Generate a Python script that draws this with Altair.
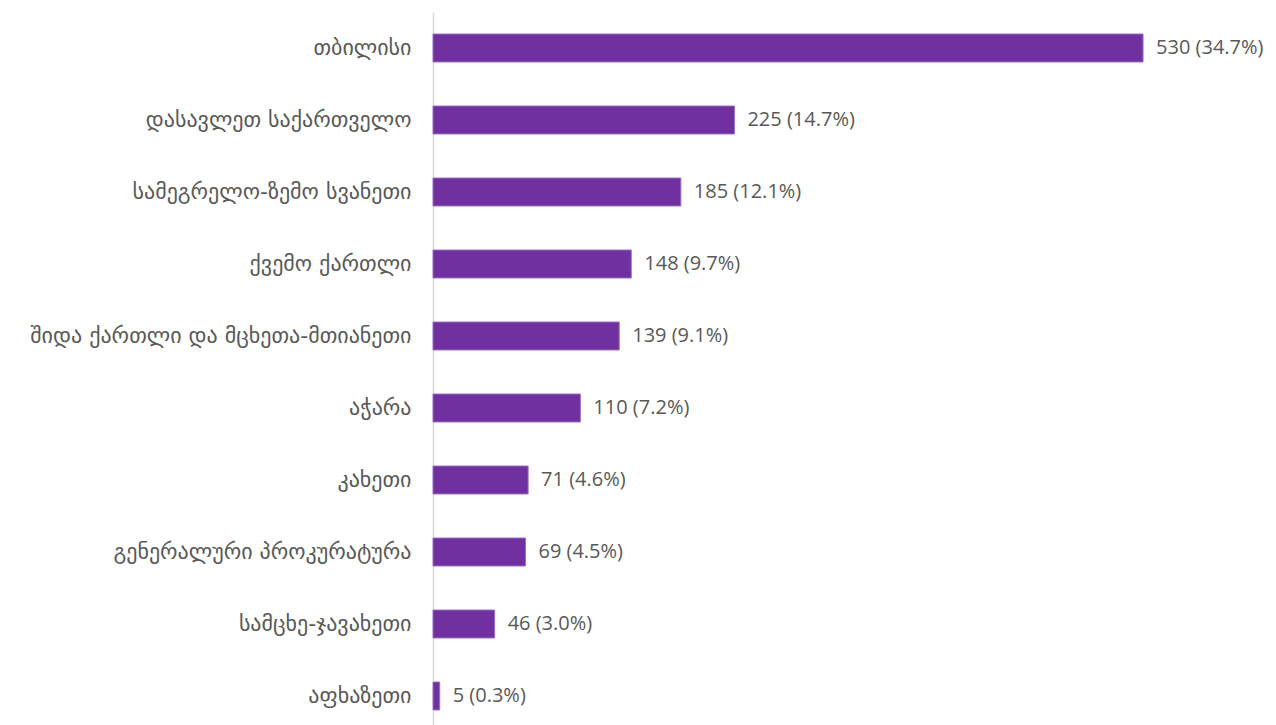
import altair as alt
import pandas as pd

regions = [
    "თბილისი",
    "დასავლეთ საქართველო",
    "სამეგრელო-ზემო სვანეთი",
    "ქვემო ქართლი",
    "შიდა ქართლი და მცხეთა-მთიანეთი",
    "აჭარა",
    "კახეთი",
    "გენერალური პროკურატურა",
    "სამცხე-ჯავახეთი",
    "აფხაზეთი",
]
counts = [530, 225, 185, 148, 139, 110, 71, 69, 46, 5]
shares = ["34.7%", "14.7%", "12.1%", "9.7%", "9.1%", "7.2%", "4.6%", "4.5%", "3.0%", "0.3%"]

df = pd.DataFrame({"region": regions, "count": counts, "share": shares})
df["label"] = [f"{c} ({s})" for c, s in zip(counts, shares)]

TXT = "#595959"

y = alt.Y("region:N", sort=regions, title=None,
          axis=alt.Axis(domainColor="#d9d9d9", domainWidth=1.5, ticks=False,
                        labelFontSize=22, labelColor=TXT, labelFont="DejaVu Sans",
                        labelPadding=22, labelLimit=0, grid=False),
          scale=alt.Scale(paddingInner=0.6, paddingOuter=0.3))
x = alt.X("count:Q", title=None, axis=None,
          scale=alt.Scale(domain=[0, 604.6], nice=False, zero=True))

bars = alt.Chart(df).mark_bar(color="#7030A0", stroke="#9b6fc4", strokeWidth=1, size=28).encode(
    x=x, y=y)

text = alt.Chart(df).mark_text(align="left", baseline="middle", dx=13, fontSize=20,
                               font="Open Sans", color=TXT).encode(
    x=x, y=y, text="label:N")

chart = (bars + text).properties(
    width=810, height=720,
    background="white",
    autosize=alt.AutoSizeParams(type="none"),
    padding={"left": 425, "top": 4, "right": 25, "bottom": 0},
).configure_view(strokeWidth=0, stroke="transparent")

chart.save("out.html", embed_options={"renderer": "svg", "actions": False})
